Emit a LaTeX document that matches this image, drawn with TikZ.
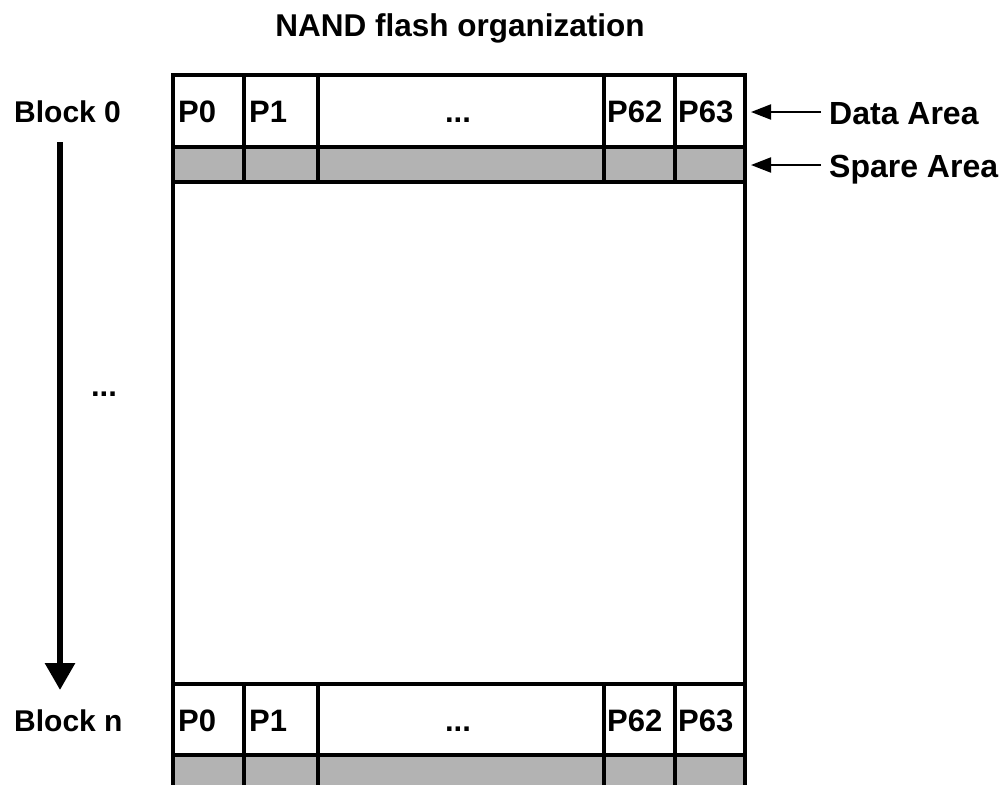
\documentclass[tikz,border=0pt]{standalone}
\usepackage{fontspec}
\setmainfont{Liberation Sans}
\usetikzlibrary{arrows.meta}
\definecolor{spare}{RGB}{179,179,179}
\tikzset{
  grid/.style={line width=4.5pt, line cap=rect},
  lbl/.style={font=\fontsize{31}{31}\selectfont\bfseries, inner sep=0pt},
  sidelbl/.style={lbl, font=\fontsize{30}{30}\selectfont\bfseries},
  arealbl/.style={lbl, font=\fontsize{32}{32}\selectfont\bfseries},
  celltxt/.style={lbl, anchor=base west},
  ptr/.style={line width=2pt, -{Triangle[length=20pt, width=15pt]}},
  bigptr/.style={line width=6pt, -{Triangle[length=27pt, width=29pt]}}
}
\begin{document}
\begin{tikzpicture}[x=1pt, y=-1pt]
\useasboundingbox (0,0) rectangle (1005,785);
\clip (0,0) rectangle (1005,785);
% gray spare rows
\fill[spare] (173,147) rectangle (745,182);
\fill[spare] (173,755) rectangle (745,800);
% outer frame and row lines
\draw[grid] (173,800) -- (173,75) -- (745,75) -- (745,800);
\draw[grid] (173,147) -- (745,147);
\draw[grid] (173,182) -- (745,182);
\draw[grid] (173,684) -- (745,684);
\draw[grid] (173,755) -- (745,755);
% column lines
\foreach \cx in {244,318,604,675} {
  \draw[grid] (\cx,75) -- (\cx,182);
  \draw[grid] (\cx,684) -- (\cx,800);
}
% title
\node[lbl, font=\fontsize{31.5}{31.5}\selectfont\bfseries, anchor=base] (title) at (460,36) {NAND flash organization};
% block 0 cells
\node[celltxt] (a0) at (178,122) {P0};
\node[celltxt] (a1) at (249,122) {P1};
\node[lbl, anchor=base] (adots) at (458,122) {...};
\node[celltxt] (a62) at (607,122) {P62};
\node[celltxt] (a63) at (678,122) {P63};
% block n cells
\node[celltxt] (n0) at (178,731) {P0};
\node[celltxt] (n1) at (249,731) {P1};
\node[lbl, anchor=base] (ndots) at (458,731) {...};
\node[celltxt] (n62) at (607,731) {P62};
\node[celltxt] (n63) at (678,731) {P63};
% left labels
\node[sidelbl, anchor=base west] (blk0) at (14,122) {Block 0};
\node[sidelbl, anchor=base west] (blkn) at (14,731) {Block n};
\node[lbl, anchor=base] (ldots) at (104,396) {...};
\coordinate (arrtop) at (60,142);
\coordinate (arrtip) at (60,690);
\draw[bigptr] (arrtop) -- (arrtip);
% right labels
\node[arealbl, anchor=base west] (data) at (829,124) {Data Area};
\node[arealbl, anchor=base west] (sparelbl) at (829,177) {Spare Area};
\coordinate (dtip) at (751,112);
\coordinate (stip) at (751,165);
\draw[ptr] (data.west |- dtip) ++(-8,0) -- (dtip);
\draw[ptr] (sparelbl.west |- stip) ++(-8,0) -- (stip);
\end{tikzpicture}
\end{document}
